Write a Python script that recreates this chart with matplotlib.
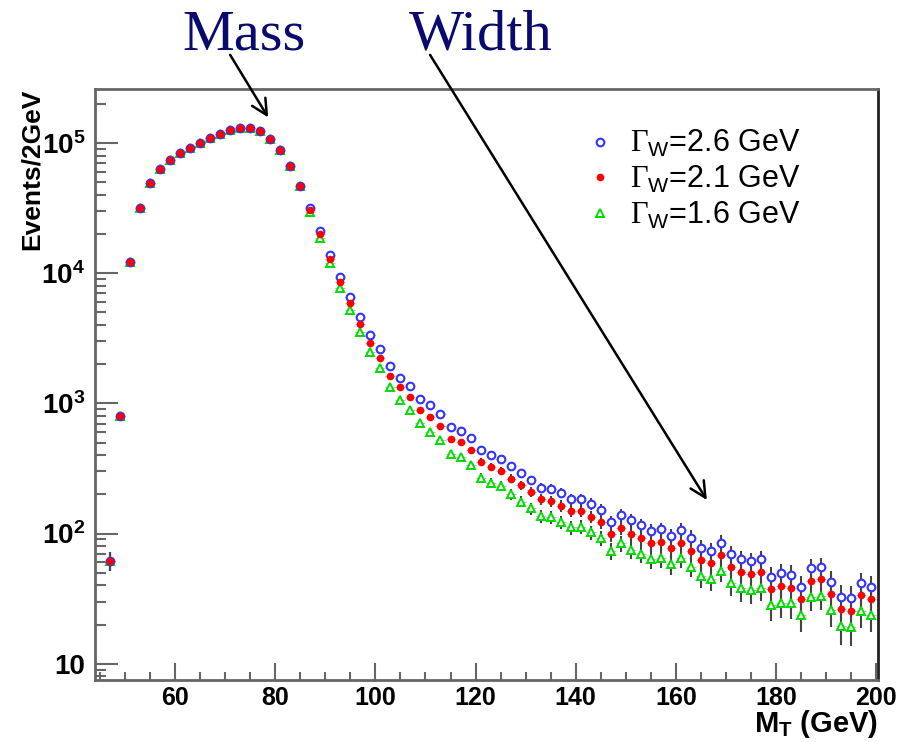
import numpy as np
import matplotlib
matplotlib.use("Agg")
from matplotlib import pyplot as plt
from matplotlib.ticker import FixedLocator, LogLocator, NullFormatter

plt.rcParams['font.family'] = ['Liberation Sans', 'DejaVu Sans']
plt.rcParams['mathtext.fontset'] = 'custom'
plt.rcParams['mathtext.rm'] = 'Liberation Serif'
plt.rcParams['mathtext.sf'] = 'Liberation Sans'
plt.rcParams['mathtext.it'] = 'Liberation Sans:italic'
plt.rcParams['mathtext.bf'] = 'Liberation Sans:bold'

# bin centres, 2 GeV bins
mt = np.arange(47, 200, 2)

# rising edge and peak, the three widths overlap here
peak = [62, 804, 12200, 31400, 49100, 62800, 73700, 83300, 92200, 100700,
        108700, 118000, 125900, 129500, 130500, 123600, 106700, 87900, 66300, 46800]

tail_26 = [31700, 21100, 13900, 9310, 6580, 4620, 3360, 2610, 1930, 1570,
           1360, 1080, 966, 824, 658, 616, 538, 438, 399, 376,
           329, 292, 257, 225, 220, 205, 184, 184, 169, 152,
           122, 139, 126, 116, 105, 108, 96, 107, 93, 78,
           74, 85, 70, 63.5, 61, 63.5, 46.7, 49.5, 48, 39,
           54, 55, 42.8, 32.8, 31.9, 41.6, 39]
tail_21 = [30800, 19900, 12900, 8530, 5920, 4090, 2920, 2230, 1630, 1330,
           1120, 893, 789, 673, 532, 502, 438, 356, 324, 304,
           264, 235, 210, 183, 178, 163, 149, 149, 135, 123,
           98.8, 111, 99, 93, 84, 86, 77, 85, 74, 63,
           59.8, 68, 55.7, 50.7, 48.7, 50.7, 37.6, 39.6, 38.4, 31.5,
           43.5, 44.6, 34.4, 26.2, 25.5, 33.6, 31.5]
tail_16 = [29500, 18700, 11900, 7670, 5200, 3540, 2480, 1880, 1340, 1070,
           884, 706, 605, 520, 410, 385, 336, 268, 246, 232,
           200, 176, 156, 136, 133, 122, 112, 113, 102, 92,
           74, 84, 75, 70, 63.5, 65, 58, 64.6, 55.7, 47,
           44.8, 51.6, 41.6, 38, 36.9, 38.4, 28.3, 29.5, 29.2, 23.7,
           32.8, 33.4, 25.9, 19.6, 19.3, 25.5, 23.7]

ev_26 = np.array(peak + tail_26, dtype=float)
ev_21 = np.array(peak + tail_21, dtype=float)
ev_16 = np.array(peak + tail_16, dtype=float)

labels = [r'$\Gamma_{\mathsf{W}}$=2.6 GeV', r'$\Gamma_{\mathsf{W}}$=2.1 GeV', r'$\Gamma_{\mathsf{W}}$=1.6 GeV']

fig = plt.figure(figsize=(9.17, 7.42), dpi=100)
ax = fig.add_axes([0.1036, 0.0836, 0.854, 0.7965])

frame_col = '#666666'
err_col = '#444444'

# draw order: green underneath, then blue, red on top
series = [
    (ev_16, dict(marker='^', mfc='white', mec='#00dd00', ms=5.5, mew=1.4), labels[2]),
    (ev_26, dict(marker='o', mfc='white', mec='#3333ff', ms=5.5, mew=1.5), labels[0]),
    (ev_21, dict(marker='o', mfc='red', mec='red', ms=4.5, mew=1.0), labels[1]),
]
handles = {}
for vals, style, lab in series:
    yerr = 1.3 * np.sqrt(vals)  # MC stat. error, weighted events
    ax.errorbar(mt, vals, yerr=yerr, fmt='none', ecolor=err_col,
                elinewidth=1.5, capsize=0, zorder=2)
    ax.errorbar(mt, vals, xerr=1.0, fmt='none', ecolor='#bbbbbb',
                elinewidth=0.8, capsize=0, zorder=2)
    p, = ax.plot(mt, vals, linestyle='none', zorder=3, **style)
    handles[lab] = p

ax.set_yscale('log')
ax.set_xlim(44, 200.4)
ax.set_ylim(7.5, 2.6e5)

# axis ticks, ROOT style
ax.xaxis.set_major_locator(FixedLocator(np.arange(60, 201, 20)))
ax.xaxis.set_minor_locator(FixedLocator(np.arange(45, 201, 5)))
ax.yaxis.set_major_locator(FixedLocator([10, 1e2, 1e3, 1e4, 1e5]))
ax.yaxis.set_minor_locator(LogLocator(base=10, subs=np.arange(2, 10)))
ax.yaxis.set_minor_formatter(NullFormatter())
ax.set_yticklabels(['10', r'$\mathbf{10^{2}}$', r'$\mathbf{10^{3}}$', r'$\mathbf{10^{4}}$', r'$\mathbf{10^{5}}$'])

ax.tick_params(axis='x', which='major', direction='in', length=12, width=1.5, color=frame_col,
               labelsize=18, pad=4, top=False)
ax.tick_params(axis='x', which='minor', direction='in', length=6, width=1.5, color=frame_col, top=False)
ax.tick_params(axis='y', which='major', direction='in', length=16.5, width=1.5, color=frame_col,
               labelsize=20, pad=7, right=False)
ax.tick_params(axis='y', which='minor', direction='in', length=8, width=1.5, color=frame_col, right=False)
for lab in ax.get_xticklabels() + ax.get_yticklabels():
    lab.set_fontweight('bold')

for side in ['left', 'bottom', 'top']:
    ax.spines[side].set_color(frame_col)
    ax.spines[side].set_linewidth(2)
ax.spines['right'].set_color('#222222')
ax.spines['right'].set_linewidth(2)

ax.set_ylabel('Events/2GeV', fontsize=19, fontweight='bold', loc='top')
ax.yaxis.set_label_coords(-0.066, 1.0)
ax.set_xlabel(r'$\mathbf{M_{T}}$ (GeV)', fontsize=21, fontweight='bold', loc='right', labelpad=-1)

leg = ax.legend([handles[l] for l in labels], labels, loc='upper left', bbox_to_anchor=(0.59, 0.98),
                frameon=False, fontsize=22, handletextpad=0.5, labelspacing=0.15,
                handlelength=1.0, markerscale=1.0)

# annotations above the frame
navy = '#0a0a6e'
fig.text(0.266, 0.933, 'Mass', family='Liberation Serif', fontsize=42, color=navy, ha='center', va='baseline')
fig.text(0.524, 0.933, 'Width', family='Liberation Serif', fontsize=42, color=navy, ha='center', va='baseline')
arrow = dict(arrowstyle='->', lw=1.8, color='black', mutation_scale=28, shrinkA=0, shrinkB=0)
ax.annotate('', xy=(78.6, 1.57e5), xycoords='data', xytext=(0.251, 0.926), textcoords='figure fraction',
            arrowprops=arrow, annotation_clip=False)
ax.annotate('', xy=(166.2, 181), xycoords='data', xytext=(0.469, 0.926), textcoords='figure fraction',
            arrowprops=arrow, annotation_clip=False)

fig.savefig('out.png', dpi=100, facecolor='white')
